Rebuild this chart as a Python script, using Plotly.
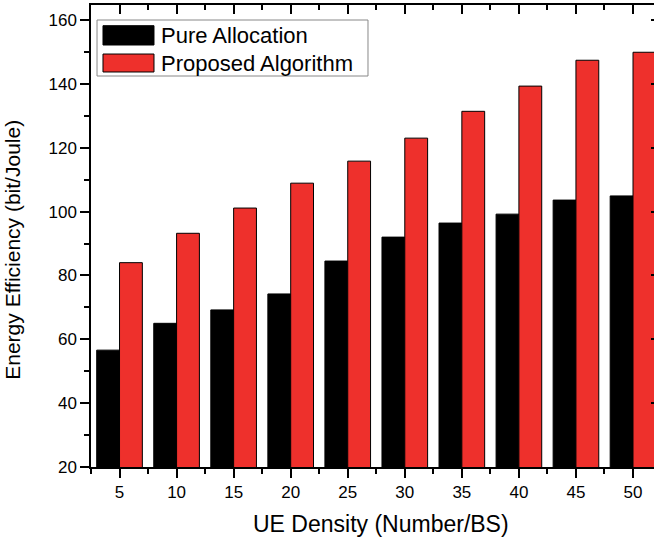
import plotly.graph_objects as go

# UE density (users per base station)
ue_density = [5, 10, 15, 20, 25, 30, 35, 40, 45, 50]

# Energy efficiency in bit/Joule
pure_allocation = [56.6, 65.0, 69.2, 74.2, 84.5, 92.0, 96.4, 99.2, 103.6, 104.9]
proposed_algorithm = [84.0, 93.2, 101.1, 108.9, 115.8, 123.0, 131.4, 139.3, 147.4, 149.9]

series_names = ["Pure Allocation", "Proposed Algorithm"]
series_colors = ["#000000", "#EE302C"]

x_ticks = ue_density
y_ticks = [20, 40, 60, 80, 100, 120, 140, 160]

FONT = "Liberation Sans, Arial, sans-serif"
x_range = [2.5, 51.84]
y_range = [20, 164.7]

fig = go.Figure()
for name, vals, col in zip(series_names, [pure_allocation, proposed_algorithm], series_colors):
    fig.add_trace(go.Bar(
        x=ue_density, y=vals, name=name,
        marker=dict(color=col, line=dict(color="#000000", width=1)),
        showlegend=False,
    ))

# empty trace that anchors the top/right frame axes
fig.add_trace(go.Scatter(x=[], y=[], xaxis="x2", yaxis="y2", showlegend=False))

axis_common = dict(showgrid=False, zeroline=False, linecolor="#000000", linewidth=1.5,
                   tickcolor="#000000", tickwidth=1.5)

fig.update_layout(
    width=654, height=540,
    margin=dict(l=91, r=0, t=5, b=73),
    paper_bgcolor="white", plot_bgcolor="white",
    barmode="group", bargap=0.2, bargroupgap=0,
    font=dict(family=FONT, color="#000000"),
    xaxis=dict(
        **axis_common, range=x_range, showline=True, ticks="outside", ticklen=9,
        tickmode="array", tickvals=x_ticks, tickfont=dict(size=17),
        minor=dict(ticks="outside", ticklen=5, tickcolor="#000000", tickwidth=1.5,
                   tickmode="array", tickvals=[v + 2.5 for v in x_ticks] + [2.5]),
    ),
    yaxis=dict(
        **axis_common, range=y_range, showline=True, ticks="outside", ticklen=9,
        tickmode="array", tickvals=y_ticks, tickfont=dict(size=17),
        minor=dict(ticks="outside", ticklen=5, tickcolor="#000000", tickwidth=1.5,
                   tickmode="array", tickvals=[v + 10 for v in y_ticks]),
    ),
    xaxis2=dict(
        **axis_common, range=x_range, overlaying="x", anchor="y", side="top",
        showline=True, ticks="inside", ticklen=9, showticklabels=False,
        tickmode="array", tickvals=x_ticks,
        minor=dict(ticks="inside", ticklen=5, tickcolor="#000000", tickwidth=1.5,
                   tickmode="array", tickvals=[v + 2.5 for v in x_ticks]),
    ),
    yaxis2=dict(
        **axis_common, range=y_range, overlaying="y", anchor="x", side="right",
        showline=False, ticks="inside", ticklen=3, showticklabels=False,
        tickmode="array", tickvals=y_ticks,
    ),
)

# axis titles
fig.add_annotation(xref="paper", yref="paper", x=0.515, y=-0.1234,
                   text="UE Density (Number/BS)", showarrow=False,
                   xanchor="center", yanchor="middle",
                   font=dict(family=FONT, size=23, color="#000000"))
fig.add_annotation(xref="paper", yref="paper", x=-0.139, y=0.4697, textangle=-90,
                   text="Energy Efficiency (bit/Joule)", showarrow=False,
                   xanchor="center", yanchor="middle",
                   font=dict(family=FONT, size=21, color="#000000"))

# legend box with large swatches
fig.add_shape(type="rect", xref="paper", yref="paper", x0=0.0107, x1=0.492, y0=0.8463, y1=0.9675,
              line=dict(color="#888888", width=1), fillcolor="white", layer="above")
sw_y = [(0.9134, 0.9552), (0.855, 0.8939)]
for (y0, y1), name, col in zip(sw_y, series_names, series_colors):
    fig.add_shape(type="rect", xref="paper", yref="paper", x0=0.0213, x1=0.1119, y0=y0, y1=y1,
                  line=dict(color="#000000", width=1), fillcolor=col, layer="above")
    fig.add_annotation(xref="paper", yref="paper", x=0.1208, y=(y0 + y1) / 2, text=name,
                       showarrow=False, xanchor="left", yanchor="middle",
                       font=dict(family=FONT, size=22, color="#000000"))

fig.write_html("out.html")
